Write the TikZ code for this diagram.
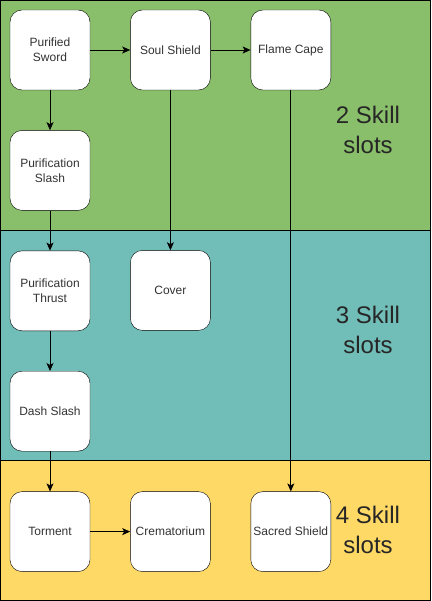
\documentclass[tikz,border=0pt]{standalone}
\usepackage{fontspec}
\setmainfont{Liberation Sans}
\usetikzlibrary{positioning,arrows.meta}
\definecolor{slotgreen}{RGB}{137,191,106}
\definecolor{slotteal}{RGB}{113,189,183}
\definecolor{slotyellow}{RGB}{255,217,102}
\tikzset{
  skill/.style={draw=black, fill=white, rounded corners=12pt, minimum width=80pt,
    minimum height=80pt, inner sep=1pt, align=center, font=\fontsize{12}{15}\selectfont,
    text=black!80},
  band/.style={draw=black, line width=0.8pt},
  slots/.style={align=center, font=\fontsize{24}{30}\selectfont, text=black!85},
  link/.style={-{Stealth[length=8pt,width=7pt,inset=2pt]}, line width=0.8pt}
}
\begin{document}
\begin{tikzpicture}[x=1pt, y=-1pt, node distance=40pt]
  \useasboundingbox (0,0) rectangle (431,601);
  % skill slot bands
  \fill[slotgreen] (0.5,0.5) rectangle (430.5,230.5);
  \fill[slotteal] (0.5,230.5) rectangle (430.5,460.5);
  \fill[slotyellow] (0.5,460.5) rectangle (430.5,600.5);
  \draw[band] (0.5,0.5) rectangle (430.5,230.5);
  \draw[band] (0.5,230.5) rectangle (430.5,460.5);
  \draw[band] (0.5,460.5) rectangle (430.5,600.5);
  % slot labels
  \node[slots] (two) at (368,130) {2 Skill\\slots};
  \node[slots] (three) at (368,330) {3 Skill\\slots};
  \node[slots] (four) at (368,530) {4 Skill\\slots};
  % skills
  \node[skill] (sword) at (50,50) {Purified\\Sword};
  \node[skill, right=of sword] (soul) {Soul Shield};
  \node[skill, right=of soul] (cape) {Flame Cape};
  \node[skill, below=of sword] (slash) {Purification\\Slash};
  \node[skill, below=of slash] (thrust) {Purification\\Thrust};
  \node[skill, below=of soul, yshift=-120pt] (cover) {Cover};
  \node[skill, below=of thrust] (dash) {Dash Slash};
  \node[skill, below=of dash] (torment) {Torment};
  \node[skill, right=of torment] (crem) {Crematorium};
  \node[skill, right=of crem] (sacred) {Sacred Shield};
  % links
  \draw[link] (sword) -- (soul);
  \draw[link] (soul) -- (cape);
  \draw[link] (sword) -- (slash);
  \draw[link] (slash) -- (thrust);
  \draw[link] (soul) -- (cover);
  \draw[link] (thrust) -- (dash);
  \draw[link] (dash) -- (torment);
  \draw[link] (torment) -- (crem);
  \draw[link] (cape) -- (sacred);
\end{tikzpicture}
\end{document}
